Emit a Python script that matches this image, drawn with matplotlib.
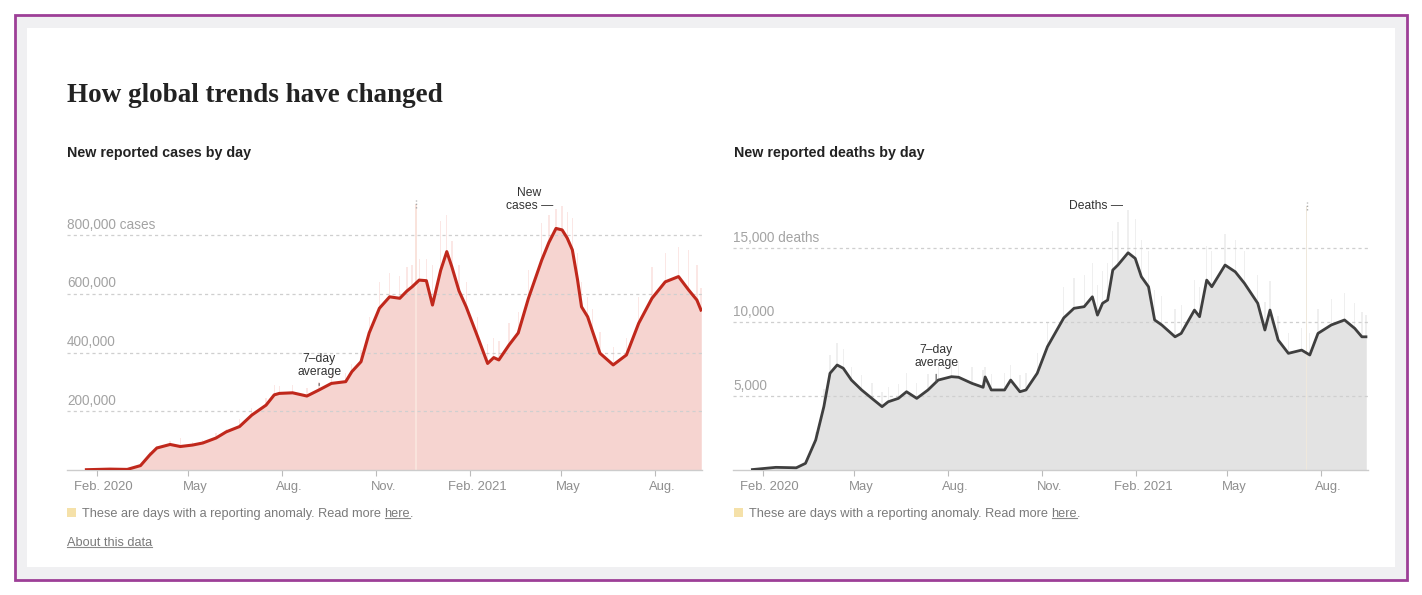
import matplotlib
matplotlib.use("Agg")
import matplotlib.pyplot as plt
import matplotlib.transforms as mtransforms
import pandas as pd
from matplotlib.patches import Rectangle
from matplotlib.lines import Line2D

plt.rcParams['font.family'] = ['Liberation Sans', 'DejaVu Sans']

# ---- data ----
case_dates = ["2020-01-22", "2020-02-14", "2020-03-02", "2020-03-15", "2020-03-24", "2020-03-31",
              "2020-04-13", "2020-04-23", "2020-05-05", "2020-05-15", "2020-05-28", "2020-06-07",
              "2020-06-20", "2020-07-02", "2020-07-16", "2020-07-24", "2020-07-29", "2020-08-11",
              "2020-08-25", "2020-09-06", "2020-09-18", "2020-10-02", "2020-10-08", "2020-10-17",
              "2020-10-25", "2020-11-04", "2020-11-14", "2020-11-24", "2020-12-01", "2020-12-06",
              "2020-12-13", "2020-12-20", "2020-12-26", "2021-01-03", "2021-01-09", "2021-01-14",
              "2021-01-21", "2021-01-28", "2021-02-08", "2021-02-18", "2021-02-24", "2021-03-01",
              "2021-03-11", "2021-03-20", "2021-03-30", "2021-04-12", "2021-04-19", "2021-04-26",
              "2021-05-02", "2021-05-07", "2021-05-12", "2021-05-17", "2021-05-21", "2021-05-27",
              "2021-06-01", "2021-06-08", "2021-06-21", "2021-07-04", "2021-07-16", "2021-07-29",
              "2021-08-11", "2021-08-24", "2021-09-03", "2021-09-11", "2021-09-15"]
# 7-day average, thousands of cases
case_avg = [1, 3, 2, 15, 51, 75,
            87, 80, 85, 92, 109, 130,
            148, 187, 221, 256, 261, 263,
            252, 273, 295, 301, 335, 369,
            467, 551, 590, 585, 610, 624,
            647, 645, 562, 680, 744, 692,
            610, 556, 456, 363, 383, 375,
            426, 467, 585, 715, 775, 823,
            818, 790, 750, 650, 556, 522,
            470, 398, 358, 392, 500, 585,
            641, 659, 613, 579, 545]
# daily spikes, thousands of cases
case_peak = [2, 4, 3, 18, 60, 82,
             100, 110, 96, 102, 125, 140,
             175, 210, 245, 290, 285, 290,
             280, 300, 330, 330, 360, 410,
             520, 640, 670, 660, 690, 700,
             720, 720, 700, 850, 870, 780,
             700, 640, 520, 430, 450, 440,
             500, 540, 680, 840, 870, 890,
             900, 880, 860, 740, 640, 590,
             550, 470, 420, 450, 590, 690,
             740, 760, 750, 700, 620]
case_anomaly_dates = ["2020-12-10"]
case_anomaly_vals = [905]

death_dates = ["2020-01-22", "2020-02-14", "2020-03-05", "2020-03-14", "2020-03-24", "2020-04-01",
               "2020-04-07", "2020-04-14", "2020-04-20", "2020-04-28", "2020-05-08", "2020-05-18",
               "2020-05-28", "2020-06-03", "2020-06-13", "2020-06-21", "2020-07-01", "2020-07-12",
               "2020-07-22", "2020-08-04", "2020-08-11", "2020-08-24", "2020-09-04", "2020-09-06",
               "2020-09-12", "2020-09-25", "2020-10-01", "2020-10-10", "2020-10-16", "2020-10-27",
               "2020-11-06", "2020-11-22", "2020-12-02", "2020-12-12", "2020-12-20", "2020-12-25",
               "2020-12-30", "2021-01-04", "2021-01-09", "2021-01-14", "2021-01-24", "2021-01-31",
               "2021-02-06", "2021-02-13", "2021-02-19", "2021-02-26", "2021-03-11", "2021-03-17",
               "2021-03-30", "2021-04-04", "2021-04-11", "2021-04-16", "2021-04-29", "2021-05-09",
               "2021-05-18", "2021-05-31", "2021-06-07", "2021-06-12", "2021-06-20", "2021-06-30",
               "2021-07-13", "2021-07-21", "2021-07-29", "2021-08-11", "2021-08-24", "2021-09-03",
               "2021-09-10", "2021-09-14"]
death_avg = [30, 180, 150, 450, 2030, 4290,
             6550, 7110, 6890, 6090, 5420, 4850,
             4290, 4620, 4850, 5300, 4850, 5420,
             6090, 6320, 6280, 5870, 5600, 6300,
             5420, 5420, 6090, 5300, 5420, 6550,
             8350, 10300, 10950, 11060, 11730, 10490,
             11290, 11510, 13540, 13880, 14710, 14330,
             13090, 12410, 10160, 9820, 9020, 9250,
             10830, 10380, 12860, 12410, 13880, 13420,
             12640, 11290, 9480, 10830, 8800, 7900,
             8120, 7790, 9250, 9820, 10160, 9590,
             9020, 9020]
death_peak = [50, 300, 250, 600, 2600, 5500,
              7800, 8600, 8200, 7000, 6400, 5900,
              5300, 5600, 5800, 6600, 5900, 6500,
              7200, 7600, 7400, 7000, 6800, 7000,
              6500, 6600, 7100, 6400, 6600, 7900,
              10000, 12400, 13000, 13200, 14000, 12500,
              13500, 14000, 16200, 16800, 17600, 17000,
              15600, 14800, 12200, 11800, 10900, 11200,
              12900, 12400, 15200, 14800, 16000, 15600,
              14800, 13200, 11400, 12800, 10400, 9300,
              9600, 9300, 10900, 11600, 12000, 11300,
              10700, 10500]
death_anomaly_dates = ["2021-07-18"]
death_anomaly_vals = [17900]

tick_dates = ["2020-02-01", "2020-05-01", "2020-08-01", "2020-11-01",
              "2021-02-01", "2021-05-01", "2021-08-01"]
tick_labels = ["Feb. 2020", "May", "Aug.", "Nov.", "Feb. 2021", "May", "Aug."]

case_grid = [200, 400, 600, 800]
case_grid_labels = ["200,000", "400,000", "600,000", "800,000 cases"]
death_grid = [5000, 10000, 15000]
death_grid_labels = ["5,000", "10,000", "15,000 deaths"]

x_start, x_end = pd.Timestamp("2020-01-03"), pd.Timestamp("2021-09-16")

# ---- figure ----
W, H = 1422, 595
fig = plt.figure(figsize=(W / 100, H / 100), dpi=100)
fig.patch.set_facecolor('white')


def fx(px):
    return px / W


def fy(py):
    return 1 - py / H


fig.patches.append(Rectangle((fx(15), fy(580)), fx(1392), 565 / H, transform=fig.transFigure,
                             facecolor='#f0f0f2', edgecolor='#9d3f97', lw=2, zorder=-3))
fig.patches.append(Rectangle((fx(27), fy(567)), fx(1368), 539 / H, transform=fig.transFigure,
                             facecolor='white', edgecolor='none', zorder=-2))

TXT = '#333333'


def draw_panel(ax, dates, avg, peak, an_dates, an_vals, ymax, grid, grid_labels,
               fill_c, spike_c, an_c, line_c, line_w):
    d = pd.to_datetime(dates)
    ax.set_facecolor('none')
    ax.bar(d, peak, width=1.3, color=spike_c, zorder=1, linewidth=0)
    ax.fill_between(d, avg, 0, color=fill_c, lw=0, zorder=2)
    ad = pd.to_datetime(an_dates)
    ax.bar(ad, an_vals, width=1.3, color=an_c, zorder=2.5, linewidth=0)
    ax.vlines(ad, [v * 0.985 for v in an_vals], [v * 1.015 for v in an_vals],
              colors='#aaaaaa', linestyles=(0, (1, 1.5)), lw=1, zorder=3)
    for v, lab in zip(grid, grid_labels):
        ax.axhline(v, color='#cfcfcf', ls=(0, (2.5, 2.5)), lw=0.9, zorder=3)
        ax.annotate(lab, xy=(x_start, v), xytext=(0, 2.5), textcoords='offset points',
                    ha='left', va='bottom', color='#a3a3a3', fontsize=9.8, zorder=5)
    ax.plot(d, avg, color=line_c, lw=line_w, zorder=4, solid_joinstyle='round')
    ax.set_xlim(x_start, x_end)
    ax.set_ylim(0, ymax)
    for s in ['top', 'right', 'left']:
        ax.spines[s].set_visible(False)
    ax.spines['bottom'].set_color('#cccccc')
    ax.spines['bottom'].set_linewidth(1)
    ax.set_yticks([])
    ax.set_xticks(pd.to_datetime(tick_dates))
    ax.set_xticklabels(tick_labels)
    ax.tick_params(axis='x', length=4, color='#bbbbbb', width=0.8, pad=4,
                   labelsize=9.4, labelcolor='#8f8f8f')
    shift = mtransforms.ScaledTranslation(7 / 100, 0, fig.dpi_scale_trans)
    for lab in ax.get_xticklabels():
        lab.set_transform(lab.get_transform() + shift)


ax1 = fig.add_axes([fx(67), fy(470), fx(635), 285 / H])
ax2 = fig.add_axes([fx(733), fy(470), fx(635), 285 / H])

draw_panel(ax1, case_dates, case_avg, case_peak, case_anomaly_dates, case_anomaly_vals,
           971, case_grid, case_grid_labels, '#f6d4d0', '#fbe7e5', '#f9e3dc', '#c0281c', 2.2)
draw_panel(ax2, death_dates, death_avg, death_peak, death_anomaly_dates, death_anomaly_vals,
           19300, death_grid, death_grid_labels, '#e3e3e3', '#efefef', '#efe8dc', '#3f3f3f', 2.0)

# annotations
ax1.annotate('7–day\naverage', xy=(pd.Timestamp("2020-09-06"), 288), xytext=(pd.Timestamp("2020-09-06"), 356),
             ha='center', va='center', fontsize=8.7, color=TXT, linespacing=1.1, zorder=6,
             arrowprops=dict(arrowstyle='-', color='#555555', lw=0.8, shrinkA=2, shrinkB=0))
ax1.text(pd.Timestamp("2021-03-31"), 921, 'New\ncases —', ha='center', va='center',
         fontsize=8.7, color=TXT, linespacing=1.1, zorder=6)
ax2.annotate('7–day\naverage', xy=(pd.Timestamp("2020-07-20"), 5960), xytext=(pd.Timestamp("2020-07-20"), 7700),
             ha='center', va='center', fontsize=8.7, color=TXT, linespacing=1.1, zorder=6,
             arrowprops=dict(arrowstyle='-', color='#555555', lw=0.8, shrinkA=2, shrinkB=0))
ax2.text(pd.Timestamp("2020-12-24"), 17900, 'Deaths —', ha='center', va='center',
         fontsize=8.7, color=TXT, zorder=6)

# titles
fig.text(fx(67), fy(102), 'How global trends have changed', ha='left', va='baseline',
         fontsize=19.5, fontweight='bold', color='#222222', family=['Liberation Serif', 'DejaVu Serif'])
fig.text(fx(67), fy(157), 'New reported cases by day', ha='left', va='baseline',
         fontsize=10.3, fontweight='bold', color='#222222')
fig.text(fx(734), fy(157), 'New reported deaths by day', ha='left', va='baseline',
         fontsize=10.3, fontweight='bold', color='#222222')

# footnotes
notes = []
for x0 in (67, 734):
    fig.patches.append(Rectangle((fx(x0), fy(517)), fx(9), 9 / H, transform=fig.transFigure,
                                 facecolor='#f5e1a9', edgecolor='none', zorder=2))
    t = fig.text(fx(x0 + 15), fy(517), 'These are days with a reporting anomaly. Read more',
                 ha='left', va='baseline', fontsize=9.2, color='#7a7a7a')
    notes.append(t)
about = fig.text(fx(67), fy(546), 'About this data', ha='left', va='baseline',
                 fontsize=9.2, color='#7a7a7a')

fig.canvas.draw()
r = fig.canvas.get_renderer()
inv = fig.transFigure.inverted()
under = [about]
for t in notes:
    bb = t.get_window_extent(r)
    x1 = inv.transform((bb.x1 + 3.5, 0))[0]
    h = fig.text(x1, t.get_position()[1], 'here', ha='left', va='baseline', fontsize=9.2, color='#7a7a7a')
    fig.canvas.draw()
    bb2 = h.get_window_extent(r)
    fig.text(inv.transform((bb2.x1, 0))[0], t.get_position()[1], '.', ha='left', va='baseline',
             fontsize=9.2, color='#7a7a7a')
    under.append(h)
for t in under:
    bb = t.get_window_extent(r)
    y0 = inv.transform((0, bb.y0 + 2))[1]
    x0, x1 = inv.transform((bb.x0, 0))[0], inv.transform((bb.x1, 0))[0]
    fig.add_artist(Line2D([x0, x1], [y0, y0], transform=fig.transFigure, color='#8a8a8a', lw=0.8))

fig.savefig('out.png', dpi=100)
